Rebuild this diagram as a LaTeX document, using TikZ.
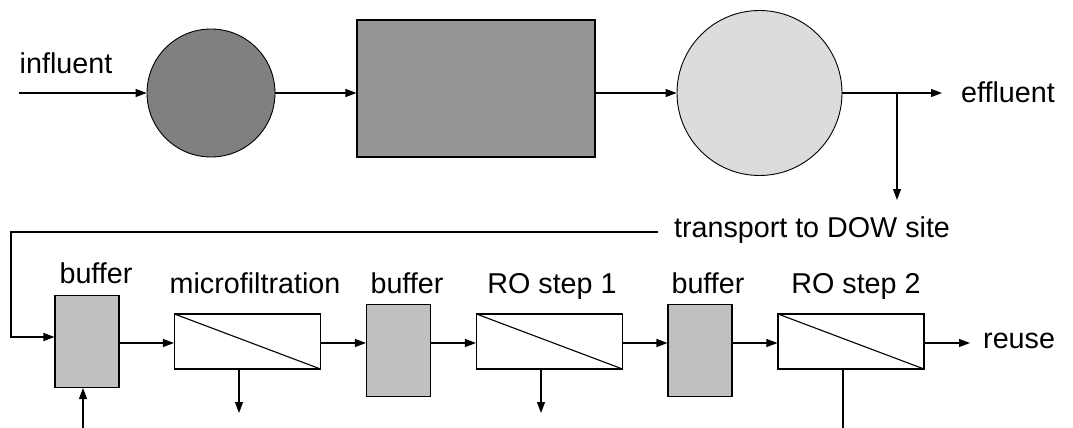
\documentclass[tikz,border=0pt]{standalone}
\usepackage{fontspec}
\setmainfont{Liberation Sans}
\usetikzlibrary{arrows.meta}
\definecolor{tankdark}{HTML}{808080}
\definecolor{tankmid}{HTML}{969696}
\definecolor{tanklight}{HTML}{DCDCDC}
\definecolor{buffergray}{HTML}{C0C0C0}
\tikzset{flow/.style={line width=1.1pt, -{Triangle[length=11pt,width=8pt]}},
  pipe/.style={line width=1.1pt},
  tank/.style={draw, circle, line width=0.9pt, inner sep=0pt},
  bufbox/.style={draw, fill=buffergray, rectangle, line width=1.1pt, minimum width=64pt, minimum height=92pt, inner sep=0pt},
  membrane/.style={draw, rectangle, line width=1.1pt, minimum width=146pt, minimum height=55pt, inner sep=0pt,
    path picture={\draw[line width=1.1pt] (path picture bounding box.north west) -- (path picture bounding box.south east);}},
  txt/.style={font=\fontsize{28.7}{34}\selectfont, inner sep=0pt}}

\begin{document}
\begin{tikzpicture}[x=1pt, y=-1pt]
      \useasboundingbox (0,0) rectangle (1073,428);
      \node [tank, fill=tankdark, minimum size=128pt] (prim) at (211,93) {};
      \node [draw, fill=tankmid, rectangle, line width=1.1pt, minimum width=238pt, minimum height=137pt, inner sep=0pt] (aer) at (476,88.5) {};
      \node [tank, fill=tanklight, minimum size=165pt] (sec) at (759.5,93) {};
      \coordinate (in) at (19,93);
      \coordinate (out) at (942,93);
      \coordinate (split) at (897,93);
      \coordinate (site) at (897,200);
      \node [txt, anchor=base] (influent) at (66,74) {influent};
      \node [txt, anchor=west] (effluent) at (961,92) {effluent};
      \draw [flow] (in) -- (prim);
      \draw [flow] (prim) -- (prim -| aer.west);
      \draw [flow] (prim -| aer.east) -- (sec);
      \draw [flow] (sec) -- (out);
      \draw [flow] (split) -- (site);

      \node [bufbox] (buf1) at (87,341.5) {};
      \node [membrane] (mf) at (247.5,341.5) {};
      \node [bufbox] (buf2) at (398.5,350.5) {};
      \node [membrane] (ro1) at (549.5,341.5) {};
      \node [bufbox] (buf3) at (700,350.5) {};
      \node [membrane] (ro2) at (851,341.5) {};
      \node [txt, anchor=base] (lbuf1) at (96,283) {buffer};
      \node [txt, anchor=base] (lmf) at (255,293) {microfiltration};
      \node [txt, anchor=base] (lbuf2) at (407,293) {buffer};
      \node [txt, anchor=base] (lro1) at (552,293) {RO step 1};
      \node [txt, anchor=base] (lbuf3) at (708,293) {buffer};
      \node [txt, anchor=base] (lro2) at (856,293) {RO step 2};
      \node [txt, anchor=base] (transport) at (812,237) {transport to DOW site};
      \coordinate (tend) at (658,232);
      \coordinate (tcorner) at (11,232);
      \coordinate (feed) at (83,428);
      \coordinate (mfout) at (239,413);
      \coordinate (ro1out) at (541,413);
      \coordinate (ro2out) at (843,428);
      \coordinate (reuseend) at (970,343);
      \node [txt, anchor=west] (reuse) at (983,341) {reuse};
      \draw [flow] (tend) -- (tcorner) |- (buf1.west |- 0,337);
      \draw [flow] (feed) -- (buf1.south -| feed);
      \draw [flow] (buf1.east |- 0,343) -- (mf.west |- 0,343);
      \draw [flow] (mf.east |- 0,343) -- (buf2.west |- 0,343);
      \draw [flow] (buf2.east |- 0,343) -- (ro1.west |- 0,343);
      \draw [flow] (ro1.east |- 0,343) -- (buf3.west |- 0,343);
      \draw [flow] (buf3.east |- 0,343) -- (ro2.west |- 0,343);
      \draw [flow] (ro2.east |- 0,343) -- (reuseend);
      \draw [flow] (mf.south -| mfout) -- (mfout);
      \draw [flow] (ro1.south -| ro1out) -- (ro1out);
      \draw [pipe] (ro2.south -| ro2out) -- (ro2out);
    \end{tikzpicture}
\end{document}
